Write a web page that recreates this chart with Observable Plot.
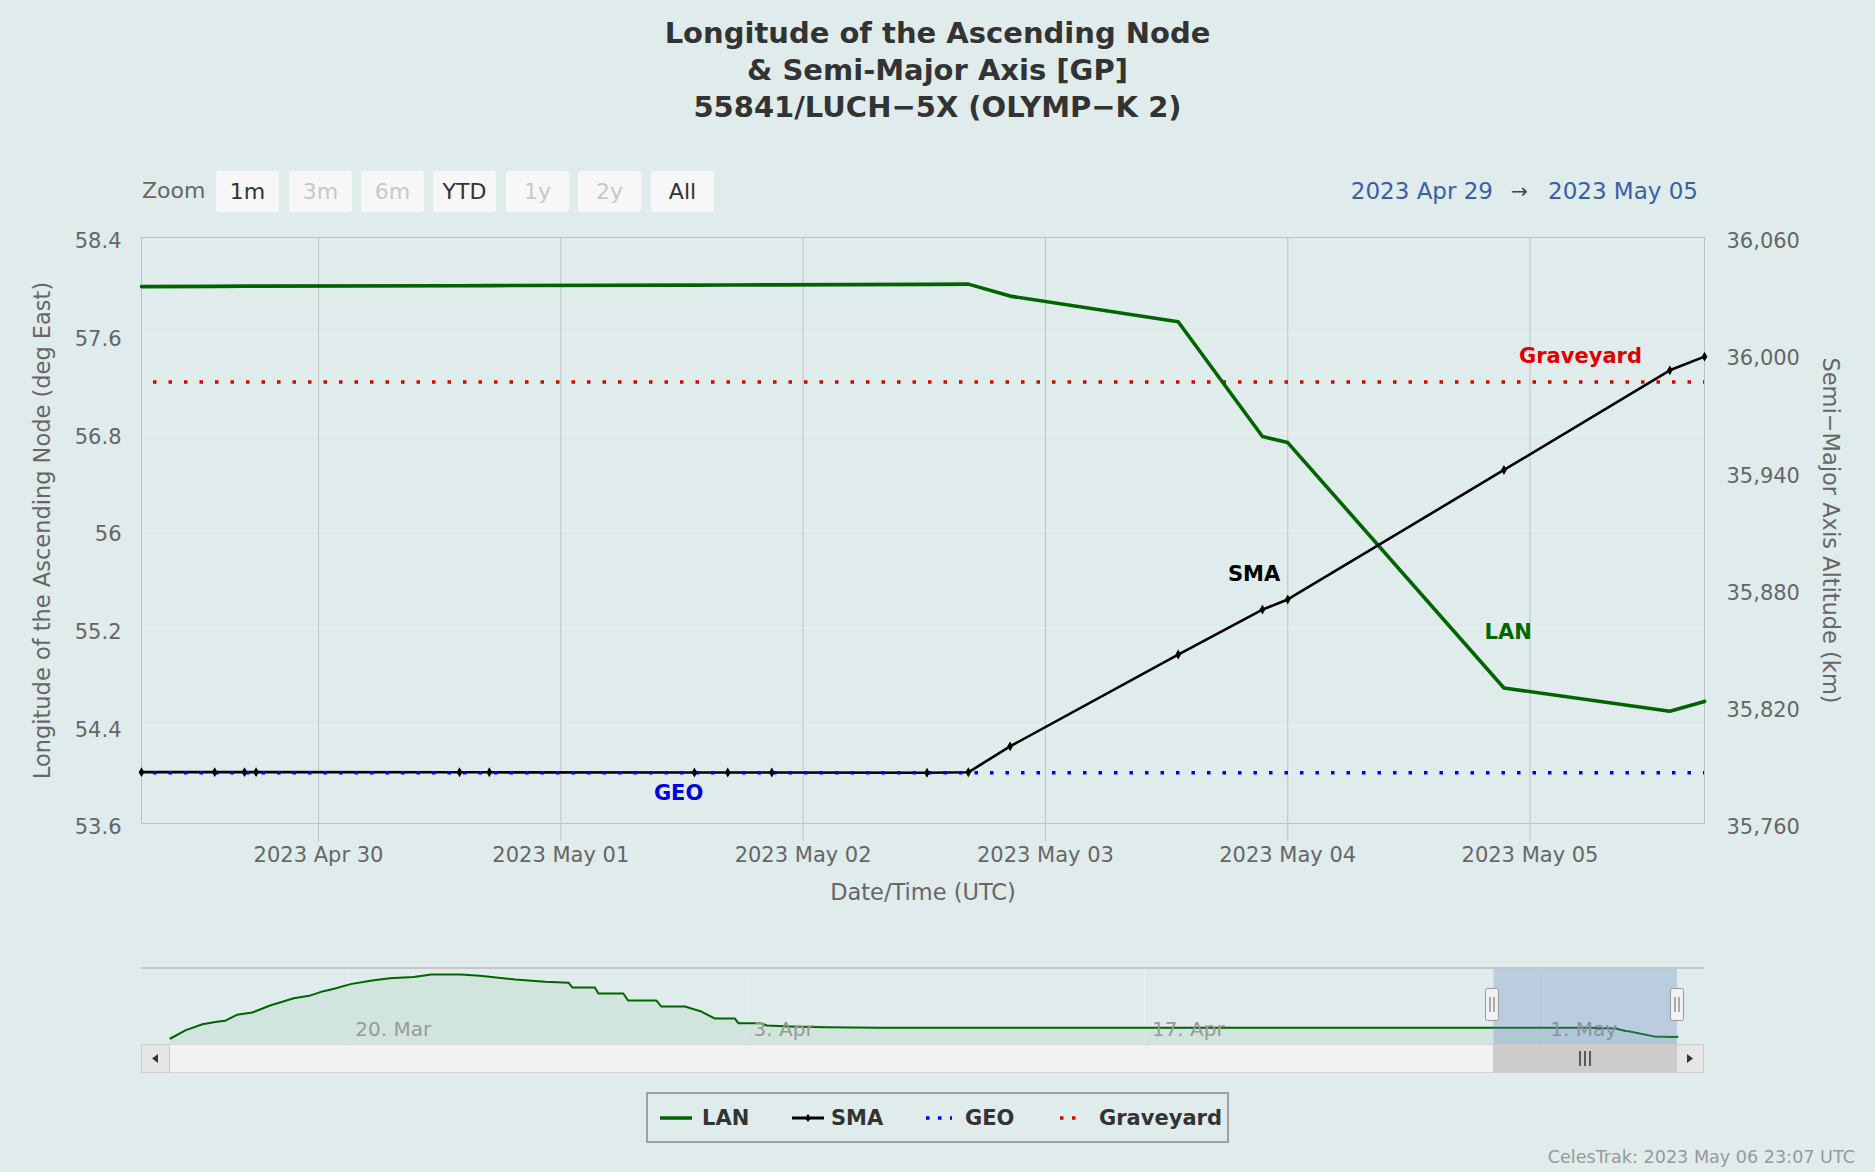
<!DOCTYPE html>
<html>
<head>
<meta charset="utf-8">
<script src="https://cdn.jsdelivr.net/npm/d3@7"></script>
<script src="https://cdn.jsdelivr.net/npm/@observablehq/plot@0.6"></script>
<style>
html, body { margin: 0; padding: 0; background: #dfeceb; }
#wrap { position: relative; width: 1875px; height: 1172px; overflow: hidden; background: #dfeceb; font-family: "DejaVu Sans", sans-serif; }
.title { position: absolute; left: 0; width: 1875px; text-align: center; font-weight: bold; font-size: 29px; color: #333; line-height: 37px; top: 15px; }
.btn { position: absolute; top: 171px; height: 41px; width: 63px; background: #f7f7f7; border-radius: 3px; font-size: 22px; line-height: 41px; text-align: center; color: #333; }
.btn.dis { color: #c8c8c8; }
.txt { position: absolute; white-space: nowrap; }
#main { position: absolute; left: 0; top: 0; }
#nav { position: absolute; left: 0; top: 940px; }
.box { position: absolute; box-sizing: border-box; }
.leg { position: absolute; font-weight: bold; font-size: 21px; color: #333; line-height: 24px; top: 1106px; }
.legsym { position: absolute; top: 1108px; }
</style>
</head>
<body>
<div id="wrap">
  <div class="title">Longitude of the Ascending Node<br>&amp; Semi-Major Axis [GP]<br>55841/LUCH&#8722;5X (OLYMP&#8722;K 2)</div>

  <div class="txt" style="left:142px;top:178px;font-size:22px;color:#666;line-height:26px;">Zoom</div>
  <div class="btn" style="left:216px;">1m</div>
  <div class="btn dis" style="left:289px;">3m</div>
  <div class="btn dis" style="left:361px;">6m</div>
  <div class="btn" style="left:433px;">YTD</div>
  <div class="btn dis" style="left:506px;">1y</div>
  <div class="btn dis" style="left:578px;">2y</div>
  <div class="btn" style="left:651px;">All</div>

  <div class="txt" style="right:382px;top:177px;font-size:23px;color:#3a5fa6;line-height:28px;">2023 Apr 29</div>
  <div class="txt" style="left:1511px;top:177px;font-size:20px;color:#444;line-height:28px;">&#8594;</div>
  <div class="txt" style="right:177px;top:177px;font-size:23px;color:#3a5fa6;line-height:28px;">2023 May 05</div>

  <div id="main"></div>
  <div id="nav"></div>

  <!-- navigator outline and scrollbar -->
  <div class="box" style="left:141px;top:967px;width:1563px;height:2px;background:#c6c6c6;"></div>
  <div class="box" style="left:141px;top:1044px;width:1563px;height:29px;background:#f2f2f2;border:1px solid #d6d6d6;"></div>
  <div class="box" style="left:141px;top:1044px;width:29px;height:29px;background:#e6e6e6;border:1px solid #cccccc;"></div>
  <div class="box" style="left:1676px;top:1044px;width:28px;height:29px;background:#e6e6e6;border:1px solid #cccccc;"></div>
  <svg class="box" style="left:141px;top:1044px;" width="29" height="29"><path d="M17 10 L11 14.5 L17 19 Z" fill="#333"/></svg>
  <svg class="box" style="left:1676px;top:1044px;" width="28" height="29"><path d="M11 10 L17 14.5 L11 19 Z" fill="#333"/></svg>
  <div class="box" style="left:1493px;top:1044px;width:183px;height:29px;background:#cccccc;"></div>
  <svg class="box" style="left:1575px;top:1050px;" width="20" height="17"><path d="M5 1 V16 M10 1 V16 M15 1 V16" stroke="#333" stroke-width="1.5"/></svg>
  <!-- handles -->
  <svg class="box" style="left:1485px;top:988px;" width="15" height="34"><rect x="0.5" y="0.5" width="13" height="32" rx="2" fill="#f2f2f2" stroke="#999"/><path d="M5 9 V24 M9 9 V24" stroke="#666" stroke-width="1"/></svg>
  <svg class="box" style="left:1670px;top:988px;" width="15" height="34"><rect x="0.5" y="0.5" width="13" height="32" rx="2" fill="#f2f2f2" stroke="#999"/><path d="M5 9 V24 M9 9 V24" stroke="#666" stroke-width="1"/></svg>

  <!-- legend -->
  <div class="box" style="left:646px;top:1092px;width:583px;height:51px;border:2px solid #a0a0a0;"></div>
  <svg class="legsym" style="left:660px;" width="32" height="20"><line x1="0" y1="10" x2="32" y2="10" stroke="#006400" stroke-width="3.5"/></svg>
  <div class="leg" style="left:702px;">LAN</div>
  <svg class="legsym" style="left:792px;" width="32" height="20"><line x1="0" y1="10" x2="32" y2="10" stroke="#000" stroke-width="3"/><path d="M16 6 L19 10 L16 14 L13 10 Z" fill="#000"/></svg>
  <div class="leg" style="left:831px;">SMA</div>
  <svg class="legsym" style="left:926px;" width="26" height="20"><line x1="0" y1="10" x2="26" y2="10" stroke="#0000ff" stroke-width="3.5" stroke-dasharray="3.5,8.5"/></svg>
  <div class="leg" style="left:965px;">GEO</div>
  <svg class="legsym" style="left:1060px;" width="22" height="20"><line x1="0" y1="10" x2="22" y2="10" stroke="#e00000" stroke-width="3.5" stroke-dasharray="3.5,8.5"/></svg>
  <div class="leg" style="left:1099px;">Graveyard</div>

  <div class="txt" style="right:20px;top:1146px;font-size:17.6px;color:#999;line-height:22px;">CelesTrak: 2023 May 06 23:07 UTC</div>
</div>

<script>
// ---- main series (GP element sets) ----
const epochs = [
  "2023-04-29T06:28Z", "2023-04-29T13:43Z", "2023-04-29T16:40Z", "2023-04-29T17:49Z",
  "2023-04-30T13:58Z", "2023-04-30T16:55Z", "2023-05-01T13:14Z", "2023-05-01T16:32Z",
  "2023-05-01T20:54Z", "2023-05-02T12:16Z", "2023-05-02T16:22Z", "2023-05-02T20:30Z",
  "2023-05-03T13:09Z", "2023-05-03T21:30Z", "2023-05-04T00:00Z", "2023-05-04T21:25Z",
  "2023-05-05T13:51Z", "2023-05-05T17:17Z"
];
const lanDeg = [
  57.998, 58.0, 58.002, 58.002, 58.005, 58.006, 58.010, 58.011,
  58.012, 58.016, 58.018, 57.92, 57.71, 56.77, 56.72, 54.71,
  54.52, 54.60
];
const smaKm = [
  35786.3, 35786.3, 35786.3, 35786.3, 35786.2, 35786.2, 35786.1, 35786.1,
  35786.1, 35786.0, 35786.2, 35799.5, 35846.5, 35869.5, 35874.7, 35941,
  35992, 35999
];
const geoKm = 35786;
const graveyardKm = 35986;

// ---- navigator history (LAN, deg East) ----
const navEpochs = [
  "2023-03-13T18:00Z", "2023-03-14T07:00Z", "2023-03-14T21:00Z", "2023-03-15T09:00Z",
  "2023-03-15T16:00Z", "2023-03-16T02:00Z", "2023-03-16T15:00Z", "2023-03-17T06:00Z",
  "2023-03-18T02:00Z", "2023-03-18T15:00Z", "2023-03-19T03:00Z", "2023-03-19T12:00Z",
  "2023-03-20T02:00Z", "2023-03-20T20:00Z", "2023-03-21T11:00Z", "2023-03-22T07:00Z",
  "2023-03-22T22:00Z", "2023-03-23T23:00Z", "2023-03-24T15:00Z", "2023-03-25T21:00Z",
  "2023-03-26T22:00Z", "2023-03-27T18:00Z", "2023-03-27T21:00Z", "2023-03-28T16:00Z",
  "2023-03-28T19:00Z", "2023-03-29T16:00Z", "2023-03-29T20:00Z", "2023-03-30T20:00Z",
  "2023-03-31T00:00Z", "2023-03-31T20:00Z", "2023-04-01T09:00Z", "2023-04-01T21:00Z",
  "2023-04-02T14:00Z", "2023-04-02T17:00Z", "2023-04-03T12:00Z", "2023-04-03T17:00Z",
  "2023-04-04T13:00Z", "2023-04-05T19:00Z", "2023-04-07T16:00Z", "2023-04-15T00:00Z",
  "2023-04-22T00:00Z"
];
const navLanDeg = [
  53.9, 57.1, 59.4, 60.3, 60.7, 63.0, 63.9, 66.6,
  69.4, 70.3, 72.1, 73.0, 74.8, 76.2, 77.1, 77.5,
  78.5, 78.5, 78.0, 76.6, 75.7, 75.3, 73.5, 73.5,
  71.2, 71.2, 68.5, 68.5, 66.2, 66.2, 64.4, 61.6,
  61.6, 59.8, 59.8, 58.9, 58.5, 58.2, 58.05, 58.0,
  58.0
];

// ---- axes ----
const lanTicks = [53.6, 54.4, 55.2, 56, 56.8, 57.6, 58.4];
const smaTicks = [35760, 35820, 35880, 35940, 36000, 36060];
const dayTicks = ["2023-04-30", "2023-05-01", "2023-05-02", "2023-05-03", "2023-05-04", "2023-05-05"];
const navTicks = ["2023-03-20", "2023-04-03", "2023-04-17", "2023-05-01"];

// ---- build ----
const parse = s => new Date(s.length === 10 ? s + "T00:00Z" : s);
const lanDomain = [lanTicks[0], lanTicks[lanTicks.length - 1]];
const smaDomain = [smaTicks[0], smaTicks[smaTicks.length - 1]];
const smaToLan = d3.scaleLinear().domain(smaDomain).range(lanDomain);

const rows = epochs.map((e, i) => ({t: parse(e), lan: lanDeg[i], sma: smaKm[i]}));
const t0 = rows[0].t, t1 = rows[rows.length - 1].t;
const days = dayTicks.map(parse);

const font = "DejaVu Sans";

const main = Plot.plot({
  width: 1875, height: 940,
  marginLeft: 141, marginRight: 171, marginTop: 237, marginBottom: 117,
  style: {background: "transparent", fontFamily: font, fontSize: "21px", color: "#666", overflow: "visible"},
  x: {type: "utc", domain: [t0, t1]},
  y: {domain: lanDomain},
  marks: [
    Plot.gridY(lanTicks, {stroke: "#eaf3f2", strokeOpacity: 1}),
    Plot.gridX(days, {stroke: "#c3c3c3", strokeOpacity: 1}),
    Plot.frame({stroke: "#c0c0c0"}),
    Plot.axisX(days, {tickFormat: d3.utcFormat("%Y %b %d"), tickSize: 18, tickPadding: 6, stroke: "#c0c0c0", label: null, fontSize: 21}),
    Plot.axisY(lanTicks, {anchor: "left", tickSize: 0, tickPadding: 20, dy: 4, tickFormat: d => String(+d.toFixed(1)), label: null, fontSize: 21}),
    Plot.axisY(smaTicks.map(v => smaToLan(v)), {anchor: "right", tickSize: 0, tickPadding: 22, dy: 4,
      tickFormat: d => d3.format(",")(Math.round(smaToLan.invert(d))), label: null, fontSize: 21}),
    Plot.text(["Longitude of the Ascending Node (deg East)"], {frameAnchor: "left", dx: -99, rotate: -90, textAnchor: "middle", fontSize: 22.5, fill: "#666"}),
    Plot.text(["Semi\u2212Major Axis Altitude (km)"], {frameAnchor: "right", dx: 126, rotate: 90, textAnchor: "middle", fontSize: 22.5, fill: "#666"}),
    Plot.text(["Date/Time (UTC)"], {frameAnchor: "bottom", dy: 76, textAnchor: "middle", fontSize: 22.5, fill: "#666"}),
    Plot.ruleY([graveyardKm], {y: d => smaToLan(d), stroke: "#e00000", strokeWidth: 3.5, strokeDasharray: "3.5,12", strokeDashoffset: -12}),
    Plot.line(rows, {x: "t", y: "lan", stroke: "#006400", strokeWidth: 3.6, curve: "linear"}),
    Plot.line(rows, {x: "t", y: d => smaToLan(d.sma), stroke: "#000", strokeWidth: 2.6}),
    Plot.ruleY([geoKm], {y: d => smaToLan(d), stroke: "#0000ff", strokeWidth: 3.5, strokeDasharray: "3.5,12", strokeDashoffset: -12}),
    Plot.dot(rows, {x: "t", y: d => smaToLan(d.sma), symbol: "diamond", r: 3, fill: "#000", stroke: "none"}),
    Plot.text([{t: "2023-05-05T05:00Z", v: 35999}], {x: d => parse(d.t), y: d => smaToLan(d.v), text: () => "Graveyard", fill: "#e00000", fontWeight: "bold", fontSize: 21}),
    Plot.text([{t: "2023-05-03T20:40Z", v: 35887.5}], {x: d => parse(d.t), y: d => smaToLan(d.v), text: () => "SMA", fill: "#000", fontWeight: "bold", fontSize: 21}),
    Plot.text([{t: "2023-05-04T21:50Z", v: 55.17}], {x: d => parse(d.t), y: "v", text: () => "LAN", fill: "#006400", fontWeight: "bold", fontSize: 21}),
    Plot.text([{t: "2023-05-01T11:40Z", v: 35775.4}], {x: d => parse(d.t), y: d => smaToLan(d.v), text: () => "GEO", fill: "#0000e0", fontWeight: "bold", fontSize: 21})
  ]
});
document.getElementById("main").appendChild(main);

// navigator
const navRows = navEpochs.map((e, i) => ({t: parse(e), lan: navLanDeg[i]})).concat(rows.map(r => ({t: r.t, lan: r.lan})));
const [nMin, nMax] = d3.extent(navRows, d => d.lan);
const nPad = (nMax - nMin) * 6 / 64;
const navY = [nMin - nPad, nMax + nPad];

const nav = Plot.plot({
  width: 1875, height: 140,
  marginLeft: 170, marginRight: 198, marginTop: 28, marginBottom: 36,
  style: {background: "transparent", fontFamily: font, fontSize: "20px", color: "#999", overflow: "visible"},
  x: {type: "utc", domain: [navRows[0].t, t1], axis: null},
  y: {domain: navY, axis: null},
  marks: [
    Plot.gridX(navTicks.map(parse), {stroke: "#e9f2f1", strokeOpacity: 1}),
    Plot.areaY(navRows, {x: "t", y1: navY[0], y2: "lan", fill: "#006400", fillOpacity: 0.06}),
    Plot.line(navRows, {x: "t", y: "lan", stroke: "#006400", strokeWidth: 2}),
    Plot.text(navTicks.map(parse), {x: d => d, frameAnchor: "bottom", dy: -9, dx: 7, textAnchor: "start", text: d3.utcFormat("%-d. %b"), fill: "#999", fontSize: 20}),
    Plot.rect([0], {x1: () => t0, x2: () => t1, y1: () => navY[0], y2: () => navY[1], fill: "rgb(102,133,194)", fillOpacity: 0.3})
  ]
});
document.getElementById("nav").appendChild(nav);
</script>
</body>
</html>
